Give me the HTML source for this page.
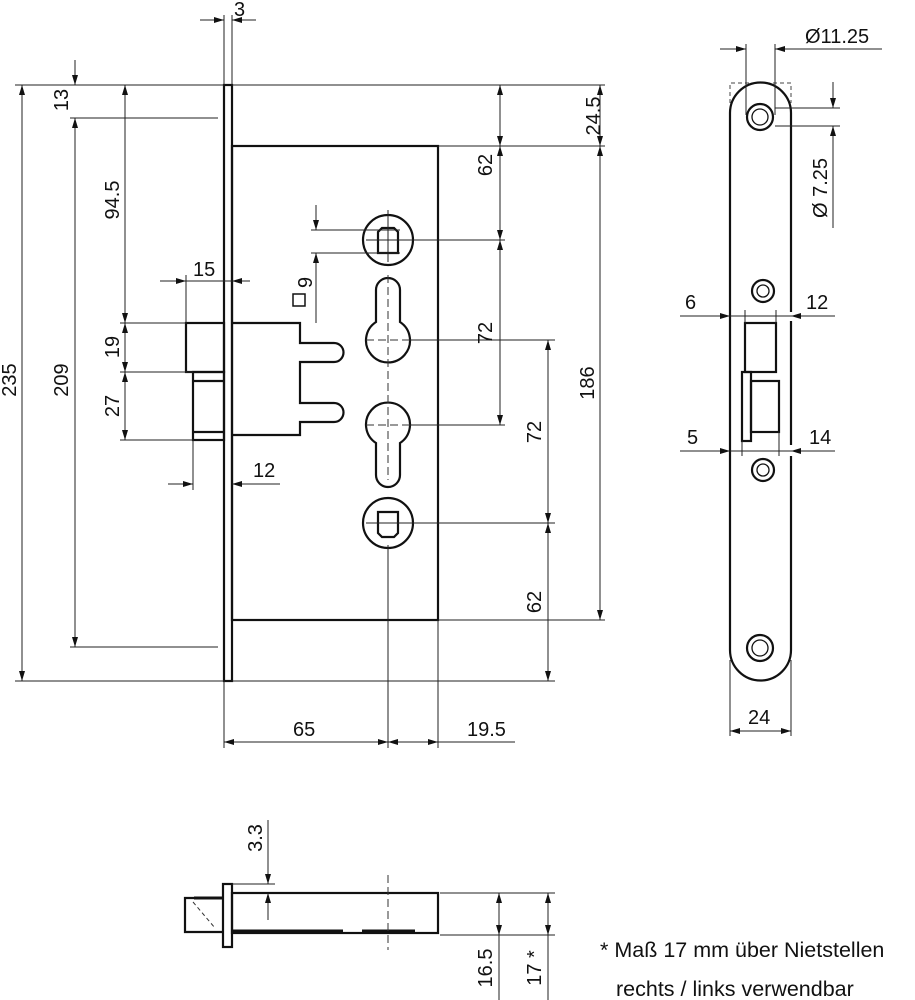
<!DOCTYPE html>
<html><head><meta charset="utf-8"><style>
html,body{margin:0;padding:0;background:#fff;}
svg{display:block;}
text{font-family:"Liberation Sans",sans-serif;font-size:20px;fill:#111;}
.o{fill:none;stroke:#111;stroke-width:2.2;}
.d{fill:none;stroke:#222;stroke-width:1;}
.a{fill:none;stroke:#222;stroke-width:1;marker-start:url(#m);marker-end:url(#m);}
.c{fill:none;stroke:#333;stroke-width:1;stroke-dasharray:8 4;}
</style></head><body>
<svg width="915" height="1000" viewBox="0 0 915 1000" xmlns="http://www.w3.org/2000/svg">
<defs><marker id="m" viewBox="0 0 10 6" refX="10" refY="3" markerWidth="10" markerHeight="6" markerUnits="userSpaceOnUse" orient="auto-start-reverse"><path d="M0,0 L10,3 L0,6 Z" fill="#111"/></marker></defs>

<rect class="o" x="224" y="85" width="8" height="596"/>
<rect class="o" x="232" y="146" width="206" height="474"/>
<rect class="o" x="186" y="323" width="38" height="49"/>
<rect class="o" x="193" y="372" width="31" height="68"/>
<line class="o" x1="193" y1="381" x2="224" y2="381"/>
<line class="o" x1="193" y1="432" x2="224" y2="432"/>
<path class="o" d="M232,323 H300 V343 H334 A9.5,9.5 0 0 1 334,362 H300 V403 H334 A9.5,9.5 0 0 1 334,422 H300 V435 H232"/>
<circle class="o" cx="388" cy="240" r="25"/>
<path class="o" d="M378,253 V232 L382,228 H394 L398,232 V253 Z"/>
<circle class="o" cx="388" cy="523" r="25"/>
<path class="o" d="M378,512 V533 L382,537 H394 L398,533 V512 Z"/>
<path class="o" d="M376,290 A12,12 0 0 1 400,290 L400,322 A22,22 0 1 1 376,322 Z"/>
<path class="o" d="M400,443 A22,22 0 1 0 376,443 L376,475 A12,12 0 0 0 400,475 Z"/>
<line class="c" x1="388" y1="275" x2="388" y2="480"/>
<line class="c" x1="366" y1="340" x2="410" y2="340"/>
<line class="c" x1="366" y1="425" x2="410" y2="425"/>
<line class="d" x1="388" y1="545" x2="388" y2="748"/>
<line class="d" x1="388" y1="210" x2="388" y2="262"/>
<line class="d" x1="366" y1="240" x2="410" y2="240"/>
<line class="d" x1="366" y1="523" x2="410" y2="523"/>

<line class="d" x1="224" y1="15" x2="224" y2="85"/><line class="d" x1="232" y1="15" x2="232" y2="85"/>
<line class="d" x1="200" y1="20" x2="224" y2="20" style="marker-end:url(#m)"/>
<line class="d" x1="232" y1="20" x2="256" y2="20" style="marker-start:url(#m)"/>
<text x="234" y="16">3</text>
<line class="d" x1="15" y1="85" x2="224" y2="85"/><line class="d" x1="15" y1="681" x2="224" y2="681"/>
<line class="d" x1="70" y1="118" x2="218" y2="118"/><line class="d" x1="70" y1="647" x2="218" y2="647"/>
<line class="a" x1="22" y1="85" x2="22" y2="681"/>
<text transform="translate(16,380) rotate(-90)" text-anchor="middle">235</text>
<line class="a" x1="75" y1="118" x2="75" y2="647"/>
<text transform="translate(68,380) rotate(-90)" text-anchor="middle">209</text>
<line class="d" x1="75" y1="60" x2="75" y2="85" style="marker-end:url(#m)"/>
<text transform="translate(68,100) rotate(-90)" text-anchor="middle">13</text>
<line class="a" x1="125" y1="85" x2="125" y2="323"/>
<text transform="translate(119,200) rotate(-90)" text-anchor="middle">94.5</text>
<line class="d" x1="120" y1="323" x2="186" y2="323"/><line class="d" x1="120" y1="372" x2="193" y2="372"/><line class="d" x1="120" y1="440" x2="193" y2="440"/>
<line class="a" x1="125" y1="323" x2="125" y2="372"/>
<text transform="translate(119,347) rotate(-90)" text-anchor="middle">19</text>
<line class="a" x1="125" y1="372" x2="125" y2="440"/>
<text transform="translate(119,406) rotate(-90)" text-anchor="middle">27</text>
<line class="d" x1="186" y1="275" x2="186" y2="323"/>
<line class="d" x1="160" y1="281" x2="186" y2="281" style="marker-end:url(#m)"/>
<line class="d" x1="186" y1="281" x2="248" y2="281" />
<line class="d" x1="250" y1="281" x2="232" y2="281" style="marker-end:url(#m)"/>
<text x="193" y="276">15</text>
<line class="d" x1="193" y1="440" x2="193" y2="490"/>
<line class="d" x1="168" y1="484" x2="193" y2="484" style="marker-end:url(#m)"/>
<line class="d" x1="280" y1="484" x2="232" y2="484" style="marker-end:url(#m)"/>
<text x="253" y="477">12</text>
<line class="d" x1="311" y1="230" x2="400" y2="230"/><line class="d" x1="311" y1="253" x2="400" y2="253"/>
<line class="d" x1="316" y1="205" x2="316" y2="230" style="marker-end:url(#m)"/>
<line class="d" x1="316" y1="323" x2="316" y2="253" style="marker-end:url(#m)"/>
<rect x="293" y="294" width="12" height="12" fill="none" stroke="#111" stroke-width="1.5"/>
<text transform="translate(312,288) rotate(-90)">9</text>
<line class="d" x1="232" y1="85" x2="605" y2="85"/>
<line class="d" x1="438" y1="146" x2="605" y2="146"/>
<line class="d" x1="438" y1="620" x2="605" y2="620"/>
<line class="d" x1="410" y1="240" x2="505" y2="240"/>
<line class="d" x1="410" y1="340" x2="555" y2="340"/>
<line class="d" x1="410" y1="425" x2="505" y2="425"/>
<line class="d" x1="410" y1="523" x2="555" y2="523"/>
<line class="d" x1="232" y1="681" x2="555" y2="681"/>
<line class="a" x1="500" y1="85" x2="500" y2="146"/>
<line class="a" x1="500" y1="146" x2="500" y2="240"/>
<text transform="translate(492,165) rotate(-90)" text-anchor="middle">62</text>
<line class="a" x1="500" y1="240" x2="500" y2="425"/>
<text transform="translate(492,333) rotate(-90)" text-anchor="middle">72</text>
<line class="a" x1="548" y1="340" x2="548" y2="523"/>
<text transform="translate(541,432) rotate(-90)" text-anchor="middle">72</text>
<line class="a" x1="548" y1="523" x2="548" y2="681"/>
<text transform="translate(541,602) rotate(-90)" text-anchor="middle">62</text>
<line class="a" x1="600" y1="85" x2="600" y2="146"/>
<text transform="translate(600,116) rotate(-90)" text-anchor="middle">24.5</text>
<line class="a" x1="600" y1="146" x2="600" y2="620"/>
<text transform="translate(594,383) rotate(-90)" text-anchor="middle">186</text>
<line class="d" x1="224" y1="681" x2="224" y2="748"/><line class="d" x1="438" y1="620" x2="438" y2="748"/>
<line class="a" x1="224" y1="742" x2="388" y2="742"/>
<line class="a" x1="388" y1="742" x2="438" y2="742"/>
<line class="d" x1="438" y1="742" x2="515" y2="742"/>
<text x="293" y="736">65</text>
<text x="467" y="736">19.5</text>

<!-- side faceplate -->
<path d="M730,103 V83 H791 V103" fill="none" stroke="#444" stroke-width="1" stroke-dasharray="4 3"/>
<path class="o" d="M730,650 V113 A30.5,30.5 0 0 1 791,113 V312 M791,321 V445 M791,456 V650 A30.5,30.5 0 0 1 730,650"/>
<circle class="o" cx="760" cy="117" r="13"/><circle cx="760" cy="117" r="8" fill="none" stroke="#111" stroke-width="1.3"/>
<circle class="o" cx="763" cy="291" r="11"/><circle cx="763" cy="291" r="6" fill="none" stroke="#111" stroke-width="1.3"/>
<circle class="o" cx="763" cy="470" r="11"/><circle cx="763" cy="470" r="6" fill="none" stroke="#111" stroke-width="1.3"/>
<circle class="o" cx="760" cy="648" r="13"/><circle cx="760" cy="648" r="8" fill="none" stroke="#111" stroke-width="1.3"/>
<rect class="o" x="745" y="323" width="31" height="49"/>
<rect class="o" x="742" y="372" width="9" height="69"/>
<rect class="o" x="751" y="381" width="28" height="51"/>
<line class="d" x1="746" y1="44" x2="746" y2="115"/><line class="d" x1="775" y1="44" x2="775" y2="115"/>
<line class="d" x1="720" y1="49" x2="746" y2="49" style="marker-end:url(#m)"/>
<line class="d" x1="882" y1="49" x2="775" y2="49" style="marker-end:url(#m)"/>
<text x="805" y="43">Ø11.25</text>
<line class="d" x1="775" y1="108" x2="840" y2="108"/><line class="d" x1="775" y1="126" x2="840" y2="126"/>
<line class="d" x1="833" y1="82" x2="833" y2="108" style="marker-end:url(#m)"/>
<line class="d" x1="833" y1="228" x2="833" y2="126" style="marker-end:url(#m)"/>
<text transform="translate(827,188) rotate(-90)" text-anchor="middle">Ø 7.25</text>
<line class="d" x1="745" y1="310" x2="745" y2="323"/><line class="d" x1="776" y1="310" x2="776" y2="323"/>
<line class="d" x1="680" y1="316" x2="730" y2="316" style="marker-end:url(#m)"/>
<line class="d" x1="835" y1="316" x2="791" y2="316" style="marker-end:url(#m)"/>
<line class="d" x1="730" y1="316" x2="791" y2="316"/>
<text x="685" y="309">6</text><text x="806" y="309">12</text>
<line class="d" x1="742" y1="441" x2="742" y2="456"/><line class="d" x1="779" y1="432" x2="779" y2="456"/>
<line class="d" x1="680" y1="451" x2="730" y2="451" style="marker-end:url(#m)"/>
<line class="d" x1="835" y1="451" x2="791" y2="451" style="marker-end:url(#m)"/>
<line class="d" x1="730" y1="451" x2="791" y2="451"/>
<text x="687" y="444">5</text><text x="809" y="444">14</text>
<line class="d" x1="730" y1="660" x2="730" y2="736"/><line class="d" x1="791" y1="660" x2="791" y2="736"/>
<line class="a" x1="730" y1="731" x2="791" y2="731"/>
<text x="748" y="724">24</text>

<!-- bottom view -->
<rect class="o" x="223" y="884" width="9" height="63"/>
<rect class="o" x="232" y="893" width="206" height="40"/>
<line x1="232" y1="931" x2="343" y2="931" stroke="#111" stroke-width="3"/>
<line x1="362" y1="931" x2="415" y2="931" stroke="#111" stroke-width="3"/>
<path class="o" d="M223,898 H185 V932 H223"/>
<line x1="194" y1="898" x2="223" y2="898" stroke="#111" stroke-width="3"/>
<line class="c" x1="193" y1="902" x2="215" y2="928" style="stroke-dasharray:4 3"/>
<line class="c" x1="388" y1="875" x2="388" y2="950"/>
<line class="d" x1="232" y1="884" x2="275" y2="884"/>
<line class="d" x1="268" y1="820" x2="268" y2="884" style="marker-end:url(#m)"/>
<line class="d" x1="268" y1="920" x2="268" y2="893" style="marker-end:url(#m)"/>
<text transform="translate(262,838) rotate(-90)" text-anchor="middle">3.3</text>
<line class="d" x1="440" y1="893" x2="555" y2="893"/><line class="d" x1="440" y1="935" x2="555" y2="935"/>
<line class="a" x1="499" y1="893" x2="499" y2="935"/><line class="d" x1="499" y1="935" x2="499" y2="1000"/>
<line class="a" x1="548" y1="893" x2="548" y2="935"/><line class="d" x1="548" y1="935" x2="548" y2="1000"/>
<text transform="translate(492,968) rotate(-90)" text-anchor="middle">16.5</text>
<text transform="translate(541,968) rotate(-90)" text-anchor="middle">17 *</text>
<text x="600" y="957" style="font-size:21.5px">* Maß 17 mm über Nietstellen</text>
<text x="616" y="996" style="font-size:21.5px">rechts / links verwendbar</text>
</svg>
</body></html>
